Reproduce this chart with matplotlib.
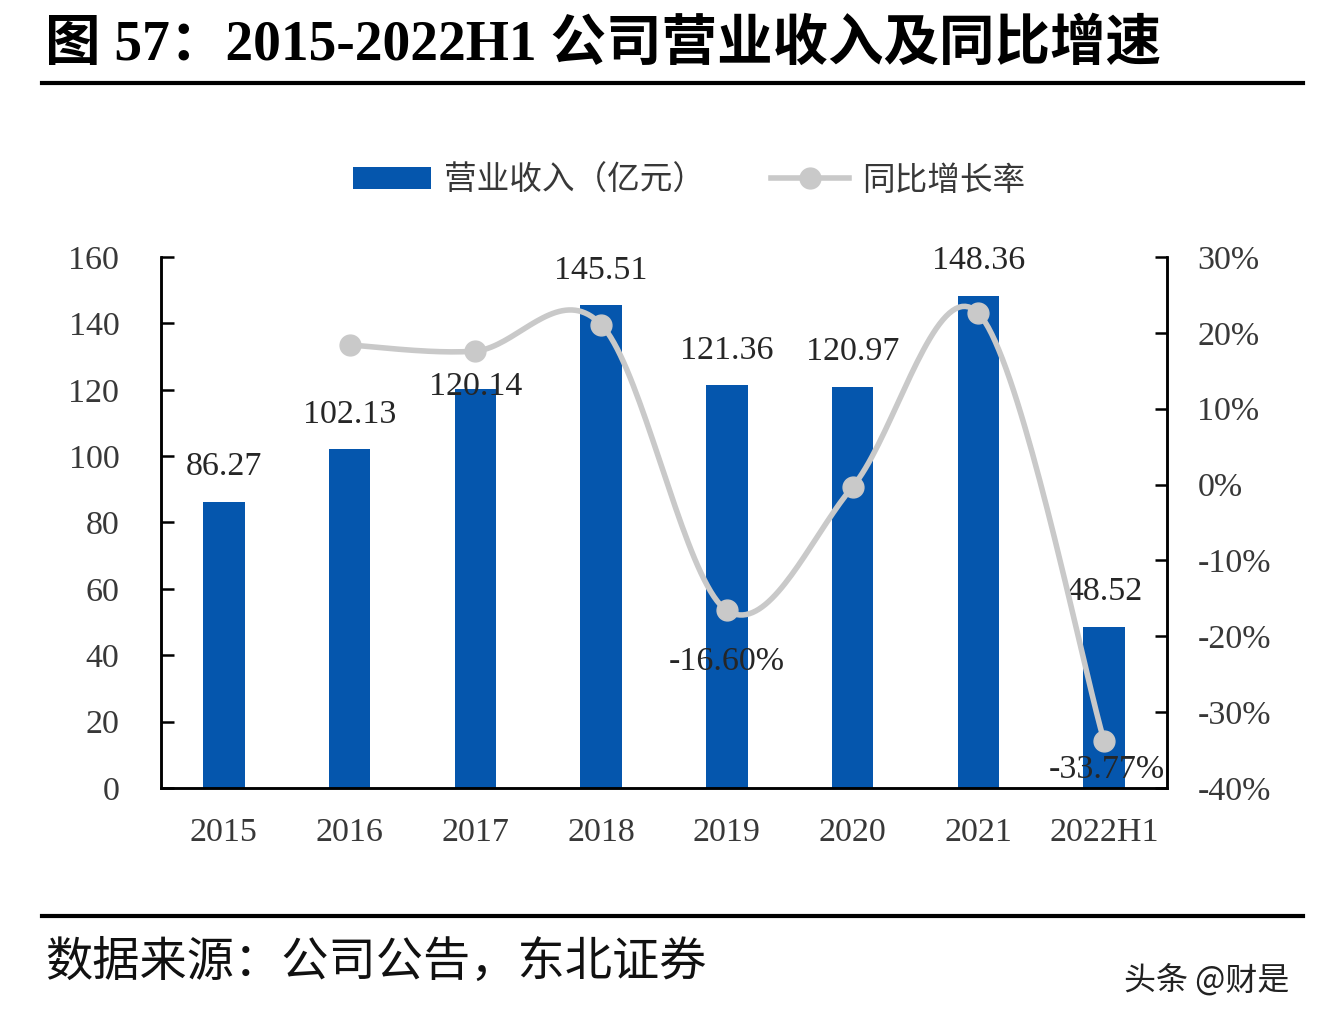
import numpy as np
import matplotlib.pyplot as plt
from matplotlib.lines import Line2D
from matplotlib.patches import Patch

plt.rcParams['font.family'] = ['Liberation Serif', 'Noto Sans CJK SC']

# 数据
years = ['2015', '2016', '2017', '2018', '2019', '2020', '2021', '2022H1']
revenue = [86.27, 102.13, 120.14, 145.51, 121.36, 120.97, 148.36, 48.52]
growth_years = ['2016', '2017', '2018', '2019', '2020', '2021', '2022H1']
growth = [18.4, 17.6, 21.1, -16.60, -0.3, 22.6, -33.77]

bar_color = '#0556ad'
line_color = '#c9c9c9'
text_color = '#383838'
cjk = ['Noto Sans CJK SC', 'Liberation Serif']
fs = 24.5

fig = plt.figure(figsize=(13.2, 10.26), dpi=100)
ax = fig.add_axes([0.122, 0.232, 0.762, 0.5175])
ax2 = ax.twinx()

x = np.arange(len(years))
ax.bar(x, revenue, width=0.33, color=bar_color, zorder=2)

# 柱子数据标签
for i, v in enumerate(revenue):
    off = 2 if years[i] == '2017' else 25
    ax.annotate(f'{v:.2f}', (x[i], v), xytext=(0, off), textcoords='offset points',
                ha='center', va='center', fontsize=fs, color='#262626', zorder=5)

# 平滑曲线 (Catmull-Rom)
gx = np.array([years.index(y) for y in growth_years], dtype=float)
gy = np.array(growth, dtype=float)
px = np.concatenate([[gx[0]], gx, [gx[-1]]])
py = np.concatenate([[gy[0]], gy, [gy[-1]]])
sx, sy = [], []
t = np.linspace(0, 1, 40)
for k in range(1, len(px) - 2):
    p0, p1, p2, p3 = [np.array([px[j], py[j]]) for j in (k - 1, k, k + 1, k + 2)]
    c1 = p1 + (p2 - p0) / 6
    c2 = p2 - (p3 - p1) / 6
    for tt in t:
        b = ((1 - tt) ** 3) * p1 + 3 * ((1 - tt) ** 2) * tt * c1 + 3 * (1 - tt) * tt ** 2 * c2 + tt ** 3 * p2
        sx.append(b[0]); sy.append(b[1])
ax2.plot(sx, sy, color=line_color, lw=4, zorder=3, solid_capstyle='round')
ax2.plot(gx, gy, 'o', color=line_color, markersize=15, zorder=4)

ax2.annotate('-16.60%', (gx[3], gy[3]), xytext=(0, -37), textcoords='offset points',
             ha='center', va='center', fontsize=fs, color='#262626')
ax2.annotate('-33.77%', (gx[6], gy[6]), xytext=(2, -21), textcoords='offset points',
             ha='center', va='center', fontsize=fs, color='#262626')

ax.set_xlim(-0.5, 7.5)
ax.set_ylim(0, 160)
ax.set_yticks(range(0, 161, 20))
ax2.set_ylim(-40, 30)
ax2.set_yticks(range(-40, 31, 10))
ax2.set_yticklabels([f'{v}%' for v in range(-40, 31, 10)])
ax.set_xticks(x)
ax.set_xticklabels(years)

for a in (ax, ax2):
    a.spines['top'].set_visible(False)
    for s in ('left', 'right', 'bottom'):
        a.spines[s].set_linewidth(1.8)
        a.spines[s].set_color('black')
ax.tick_params(axis='y', direction='in', length=9, width=1.8, labelsize=fs, labelcolor=text_color, pad=30)
ax.tick_params(axis='x', length=0, labelsize=fs, labelcolor=text_color, pad=21)
ax2.tick_params(axis='y', direction='in', length=9, width=1.8, labelsize=fs, labelcolor=text_color, pad=22)

# 图例
handles = [Patch(facecolor=bar_color, label='营业收入（亿元）'),
           Line2D([0], [0], color=line_color, lw=4, marker='o', markersize=15, label='同比增长率')]
leg = fig.legend(handles=handles, loc='center', bbox_to_anchor=(0.522, 0.824), ncol=2, frameon=False,
                 prop={'family': cjk, 'size': 23.5}, handlelength=2.4, handleheight=0.65,
                 columnspacing=2.0, handletextpad=0.4)
for txt in leg.get_texts():
    txt.set_color(text_color)

# 标题与分隔线
fig.text(0.034, 0.956, '图 57：2015-2022H1 公司营业收入及同比增速', fontsize=40, fontweight='bold',
         va='center', ha='left', family=['Liberation Serif', 'Noto Sans CJK SC'], color='black')
fig.add_artist(Line2D([0.032, 0.987], [0.919, 0.919], color='black', lw=3))
fig.add_artist(Line2D([0.032, 0.987], [0.107, 0.107], color='black', lw=3))
fig.text(0.034, 0.062, '数据来源：公司公告，东北证券', fontsize=34, va='center', ha='left',
         family=cjk, color='#111111')
fig.text(0.977, 0.045, '头条 @财是', fontsize=23, va='center', ha='right',
         family=['Noto Sans CJK SC', 'DejaVu Sans'], color='#222222')

fig.savefig('out.png', dpi=100)
